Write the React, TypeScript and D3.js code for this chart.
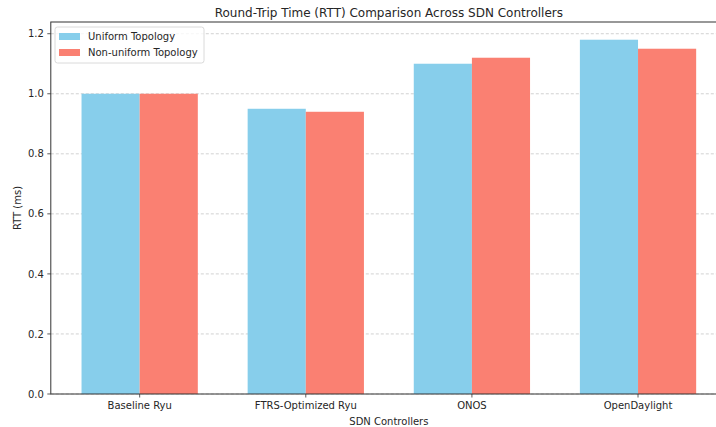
import React from "react";
import * as d3 from "d3";

const categories = ["Baseline Ryu", "FTRS-Optimized Ryu", "ONOS", "OpenDaylight"];
const uniformValues = [1.0, 0.95, 1.1, 1.18];
const nonUniformValues = [1.0, 0.94, 1.12, 1.15];
const seriesNames = ["Uniform Topology", "Non-uniform Topology"];
const seriesColors = ["#87CEEB", "#FA8072"];
const yTicks = [0, 0.2, 0.4, 0.6, 0.8, 1.0, 1.2];

const W = 716;
const H = 427;
const FONT = "DejaVu Sans, sans-serif";

export default function App() {
  const barW = 0.35;
  const x = d3.scaleLinear().domain([-0.535, 3.535]).range([50.8, 726.9]);
  const yMax = 1.18 * 1.05;
  const y = d3.scaleLinear().domain([0, yMax]).range([394, 22]);
  const left = x.range()[0];
  const right = x.range()[1];
  const top = y.range()[1];
  const bottom = y.range()[0];
  const series = [uniformValues, nonUniformValues];

  const T = (props: any) => {
    const { x: tx, y: ty, children, size, anchor, rotate, fill } = props;
    const tr = rotate ? `translate(${tx},${ty}) rotate(-90)` : `translate(${tx},${ty})`;
    return (
      <text
        transform={tr}
        fontSize={size}
        fontFamily={FONT}
        textAnchor={anchor || "middle"}
        fill={fill || "#262626"}
      >
        {children}
      </text>
    );
  };

  return (
    <svg
      width={W}
      height={H}
      style={{ position: "absolute", left: 0, top: 0, background: "#fff" }}
    >
      {/* grid */}
      {yTicks.map((t) => (
        <line
          key={"g" + t}
          x1={left}
          x2={right}
          y1={y(t)}
          y2={y(t)}
          stroke="#b0b0b0"
          strokeWidth={0.8}
          strokeDasharray="3,2"
          opacity={0.7}
        />
      ))}
      {/* bars */}
      {series.map((vals, si) =>
        vals.map((v, i) => {
          const x0 = si === 0 ? i - barW : i;
          return (
            <rect
              key={si + "-" + i}
              x={x(x0)}
              y={y(v)}
              width={x(x0 + barW) - x(x0)}
              height={y(0) - y(v)}
              fill={seriesColors[si]}
            />
          );
        })
      )}
      {/* spines */}
      <rect
        x={left}
        y={top}
        width={right - left}
        height={bottom - top}
        fill="none"
        stroke="#333"
        strokeWidth={1}
      />
      {/* y ticks */}
      {yTicks.map((t) => (
        <g key={"yt" + t}>
          <line x1={left - 3.5} x2={left} y1={y(t)} y2={y(t)} stroke="#333" strokeWidth={0.8} />
          <T x={left - 7} y={y(t) + 3.6} size={10} anchor="end">
            {t.toFixed(1)}
          </T>
        </g>
      ))}
      {/* x ticks */}
      {categories.map((c, i) => (
        <g key={"xt" + i}>
          <line x1={x(i)} x2={x(i)} y1={bottom} y2={bottom + 3.5} stroke="#333" strokeWidth={0.8} />
          <T x={x(i)} y={409.3} size={10}>
            {c}
          </T>
        </g>
      ))}
      {/* axis labels */}
      <T x={(left + right) / 2} y={425} size={10}>
        SDN Controllers
      </T>
      <T x={20.5} y={(top + bottom) / 2} size={10} rotate>
        RTT (ms)
      </T>
      {/* title */}
      <T x={(left + right) / 2} y={16.5} size={12}>
        Round-Trip Time (RTT) Comparison Across SDN Controllers
      </T>
      {/* legend */}
      <g>
        <rect
          x={55}
          y={27}
          width={149}
          height={36}
          rx={2.5}
          fill="#fff"
          fillOpacity={0.8}
          stroke="#d0d0d0"
          strokeWidth={0.8}
        />
        {seriesNames.map((n, i) => (
          <g key={"lg" + i}>
            <rect x={59} y={33 + i * 16} width={21} height={7} fill={seriesColors[i]} />
            <T x={88} y={40 + i * 16} size={10} anchor="start">
              {n}
            </T>
          </g>
        ))}
      </g>
    </svg>
  );
}
